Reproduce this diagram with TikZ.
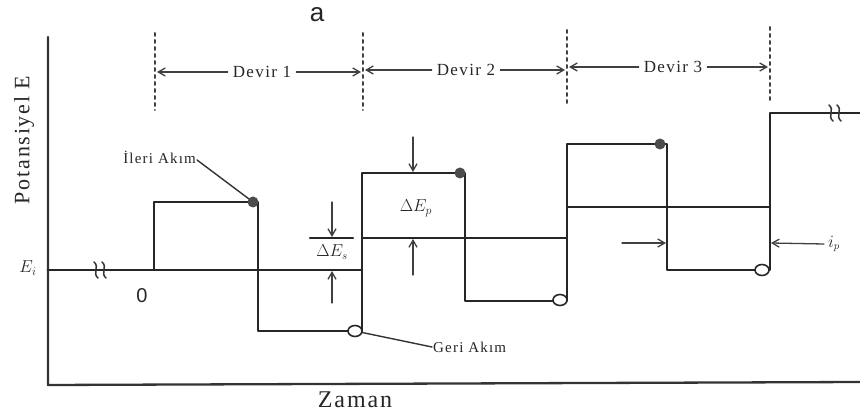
\documentclass[tikz,border=0pt]{standalone}
\usepackage{fontspec}
\setmainfont{Liberation Serif}
\newfontfamily\spacedfont[LetterSpace=8]{Liberation Serif}
\newfontfamily\sansfont{Liberation Sans}
\usetikzlibrary{arrows.meta}
\usetikzlibrary{shapes.geometric}

\begin{document}
\begin{tikzpicture}[
    x=1pt, y=-1pt,
    >={Straight Barb[length=7pt,width=8pt]},
    line cap=round, line join=round
  ]

  % styles
  \tikzstyle{wave}=[draw=black!85, line width=2.8pt]
  \tikzstyle{level}=[draw=black!85, line width=2.2pt]
  \tikzstyle{axis}=[draw=black!80, line width=2.3pt]
  \tikzstyle{cut}=[draw=black!75, line width=2pt, dash pattern=on 3pt off 4pt]
  \tikzstyle{dim}=[->, draw=black!75, line width=1.3pt]
  \tikzstyle{lead}=[draw=black!80, line width=1.4pt]
  \tikzstyle{lbl}=[inner sep=1pt, text=black!85]
  \tikzstyle{fdot}=[circle, fill=black!70, minimum size=11pt, inner sep=0pt]
  \tikzstyle{odot}=[ellipse, draw=black!85, fill=white, line width=1.6pt,
                    minimum width=14pt, minimum height=11pt, inner sep=0pt]

  \useasboundingbox (0,0) rectangle (860,414);

  % axes
  \coordinate (ytop) at (48,37);
  \coordinate (org) at (48,385);
  \coordinate (xend) at (860,382);
  \draw[axis] (ytop) -- (org) -- (xend);

  \node[lbl, font=\sansfont\fontsize{26}{28}\selectfont] (title) at (317,15) {a};
  \node[lbl, rotate=90, font=\spacedfont\fontsize{22}{24}\selectfont] (ylab) at (24,140) {Potansiyel E};
  \node[lbl, font=\spacedfont\fontsize{24}{26}\selectfont] (xlab) at (355,400) {Zaman};
  \node[lbl, font=\fontsize{18}{20}\selectfont] (ei) at (28,268) {$E_i$};
  \node[lbl, font=\sansfont\fontsize{20}{22}\selectfont] (zero) at (142,296) {0};

  % cycle borders
  \foreach \n/\x/\ya/\yb in {1/155/33/110, 2/363/33/110, 3/567/30/105, 4/770/27/100} {
    \coordinate (d\n t) at (\x,\ya);
    \coordinate (d\n b) at (\x,\yb);
    \draw[cut] (d\n t) -- (d\n b);
  }

  % cycle labels
  \node[lbl, font=\spacedfont\fontsize{17}{19}\selectfont] (devir1) at (262,72) {Devir 1};
  \node[lbl, font=\spacedfont\fontsize{17}{19}\selectfont] (devir2) at (466,70) {Devir 2};
  \node[lbl, font=\spacedfont\fontsize{17}{19}\selectfont] (devir3) at (673,67) {Devir 3};
  \coordinate (c1r) at (157,72);  \coordinate (c1l) at (361,72);
  \coordinate (c2r) at (365,70);  \coordinate (c2l) at (565,70);
  \coordinate (c3r) at (569,67);  \coordinate (c3l) at (768,67);
  \draw[dim] ([xshift=-4pt]devir1.west) -- (c1r);
  \draw[dim] ([xshift=4pt]devir1.east) -- (c1l);
  \draw[dim] ([xshift=-4pt]devir2.west) -- (c2r);
  \draw[dim] ([xshift=4pt]devir2.east) -- (c2l);
  \draw[dim] ([xshift=-4pt]devir3.west) -- (c3r);
  \draw[dim] ([xshift=4pt]devir3.east) -- (c3l);

  % staircase levels
  \coordinate (l1a) at (154,270);  \coordinate (l1b) at (362,270);
  \coordinate (l2a) at (362,238);  \coordinate (l2b) at (567,238);
  \coordinate (l3a) at (567,207);  \coordinate (l3b) at (770,207);
  \coordinate (s1) at (310,238);   \coordinate (s2) at (353,238);
  \draw[level] (l1a) -- (l1b);
  \draw[level] (l2a) -- (l2b);
  \draw[level] (l3a) -- (l3b);
  \draw[level] (s1) -- (s2);

  % square wave
  \foreach \n/\x/\y in {0/48/270, 1/154/270, 2/154/202, 3/258/202, 4/258/331,
                        5/362/331, 6/362/173, 7/465/173, 8/465/301, 9/567/301,
                        10/567/144, 11/667/144, 12/667/270, 13/770/270,
                        14/770/113, 15/860/113}
    \coordinate (w\n) at (\x,\y);
  \draw[wave] (w0) -- (w1) -- (w2) -- (w3) -- (w4) -- (w5) -- (w6) -- (w7)
    -- (w8) -- (w9) -- (w10) -- (w11) -- (w12) -- (w13) -- (w14) -- (w15);

  % axis breaks
  \foreach \x/\y in {96/270, 104/270, 831/113, 839/113}
    \draw[draw=black!80, line width=1.5pt]
      (\x-2,\y-8) .. controls (\x+4,\y-3) and (\x-4,\y+3) .. (\x+2,\y+8);

  % sampled currents
  \node[lbl, anchor=east, font=\spacedfont\fontsize{15}{17}\selectfont] (ileri) at (197,157) {İleri Akım};
  \node[lbl, anchor=west, font=\spacedfont\fontsize{15}{17}\selectfont] (geri) at (432,347) {Geri Akım};
  \coordinate (f1) at (253,202);
  \coordinate (g1) at (355,331);
  \draw[lead] ([yshift=-3pt]ileri.east) -- (f1);
  \draw[lead] (g1) -- (geri.west);
  \node[fdot] (fwd1) at (f1) {};
  \node[fdot] (fwd2) at (460,173) {};
  \node[fdot] (fwd3) at (660,144) {};
  \node[odot] (rev1) at (g1) {};
  \node[odot] (rev2) at (560,300) {};
  \node[odot] (rev3) at (762,270) {};

  % step height
  \node[lbl, font=\fontsize{16}{18}\selectfont] (des) at (332,252) {$\Delta E_s$};
  \coordinate (es1) at (332,202);  \coordinate (es2) at (332,237);
  \coordinate (es3) at (332,303);  \coordinate (es4) at (332,271);
  \draw[dim] (es1) -- (es2);
  \draw[dim] (es3) -- (es4);

  % pulse height
  \node[lbl, font=\fontsize{18}{20}\selectfont] (dep) at (416,208) {$\Delta E_p$};
  \coordinate (ep1) at (413,137);  \coordinate (ep2) at (413,172);
  \coordinate (ep3) at (413,275);  \coordinate (ep4) at (413,239);
  \draw[dim] (ep1) -- (ep2);
  \draw[dim] (ep3) -- (ep4);

  % current difference
  \node[lbl, font=\fontsize{16}{18}\selectfont] (ip) at (834,244) {$i_p$};
  \coordinate (ip1) at (622,243);  \coordinate (ip2) at (666,243);
  \coordinate (ip3) at ([xshift=-3pt]ip.west);  \coordinate (ip4) at (771,243);
  \draw[dim] (ip1) -- (ip2);
  \draw[dim] (ip3) -- (ip4);

\end{tikzpicture}
\end{document}
